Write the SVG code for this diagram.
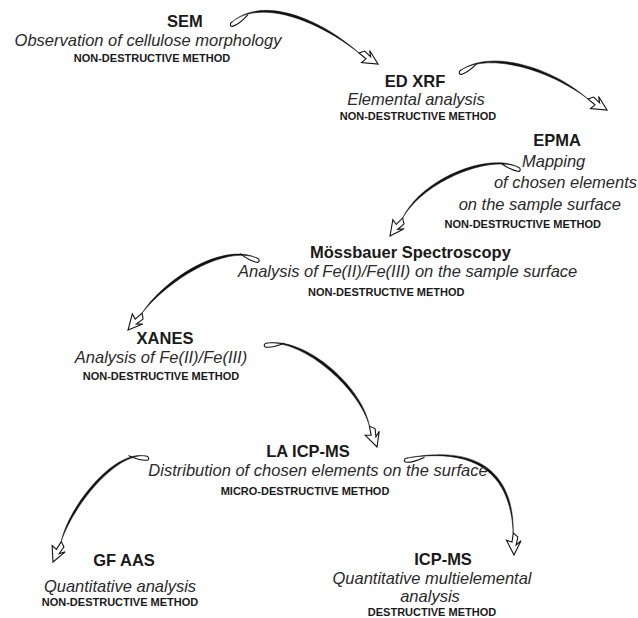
<svg xmlns="http://www.w3.org/2000/svg" xmlns:xlink="http://www.w3.org/1999/xlink" width="638" height="618" viewBox="0 0 638 618">
<style>
text{font-family:"Liberation Sans",Arial,sans-serif;fill:#1a1a1a;text-anchor:middle}
.t{font-weight:bold;font-size:16.5px}
.i{font-style:italic;font-size:16.5px;fill:#2a2a2a}
.m{font-weight:bold;font-size:11px}
.s{text-anchor:start}
.e{text-anchor:end}
.b{fill:#111;stroke:#111;stroke-width:0.5;stroke-linejoin:round}
</style>
<defs>
<path id="head" d="M0,0 L-14,-7.5 L-10,-2.5 L-18,-4.5 L-22,0 L-13,1.5 L-15,7 Z" fill="#fff" stroke="#111" stroke-width="1.1"/>
<path id="tail" d="M0,0 C-3,0 -4.5,3.5 -1,4.2 C4,5 10,4 17,1.8" fill="none" stroke="#111" stroke-width="1.1" stroke-linecap="round"/>
</defs>
<rect width="638" height="618" fill="#fff"/>
<g id="connectors">
<g id="c1">
<path class="b" d="M232,22 C262,-2 320,22 359,53 C321,19 263,-5 232,22 Z"/>
<use xlink:href="#tail" href="#tail" transform="translate(232,22) rotate(-30)"/>
<use xlink:href="#head" href="#head" transform="translate(378,64) rotate(30)"/>
</g>
<g id="c2">
<path class="b" d="M461,70 C490,52 550,70 588,99 C552,67 491,49 461,70 Z"/>
<use xlink:href="#tail" href="#tail" transform="translate(461,70) rotate(-28)"/>
<use xlink:href="#head" href="#head" transform="translate(607,110) rotate(30)"/>
</g>
<g id="c3">
<path class="b" d="M518,167 C490,155 425,180 402.6,218 C422,178 489,152 518,167 Z"/>
<use xlink:href="#tail" href="#tail" transform="translate(518,167) rotate(198) scale(1,-1)"/>
<use xlink:href="#head" href="#head" transform="translate(390,236) rotate(125)"/>
</g>
<g id="c4">
<path class="b" d="M257,258 C225,245 168,280 142.1,313.1 C165,278 223,242 257,258 Z"/>
<use xlink:href="#tail" href="#tail" transform="translate(257,258) rotate(200) scale(1,-1)"/>
<use xlink:href="#head" href="#head" transform="translate(128,330) rotate(130)"/>
</g>
<g id="c5">
<path class="b" d="M267,343 C305,340 360,390 369.5,426.3 C363,388 307,337 267,343 Z"/>
<use xlink:href="#tail" href="#tail" transform="translate(267,343) rotate(-5)"/>
<use xlink:href="#head" href="#head" transform="translate(377,447) rotate(70)"/>
</g>
<g id="c6">
<path class="b" d="M146,456 C115,452 72,508 61.2,541.6 C69,506 114,449 146,456 Z"/>
<use xlink:href="#tail" href="#tail" transform="translate(146,456) rotate(187) scale(1,-1)"/>
<use xlink:href="#head" href="#head" transform="translate(53,562) rotate(112)"/>
</g>
<g id="c7">
<path class="b" d="M407,458 C485,446 511,482 513.2,533 C514,480 486,443 407,458 Z"/>
<use xlink:href="#tail" href="#tail" transform="translate(407,458) rotate(-8)"/>
<use xlink:href="#head" href="#head" transform="translate(514,555) rotate(88)"/>
</g>
</g>
<g id="sem">
<text class="t" x="185" y="27">SEM</text>
<text class="i" x="148" y="46">Observation of cellulose morphology</text>
<text class="m" x="152" y="62">NON-DESTRUCTIVE METHOD</text>
</g>
<g id="edxrf">
<text class="t" x="415" y="87">ED XRF</text>
<text class="i" x="416" y="105">Elemental analysis</text>
<text class="m" x="418" y="120">NON-DESTRUCTIVE METHOD</text>
</g>
<g id="epma">
<text class="t" x="557" y="146">EPMA</text>
<text class="i s" x="522" y="167">Mapping</text>
<text class="i e" x="637" y="188">of chosen elements</text>
<text class="i e" x="621" y="210">on the sample surface</text>
<text class="m e" x="601" y="228">NON-DESTRUCTIVE METHOD</text>
</g>
<g id="mossbauer">
<text class="t s" x="310" y="258">Mössbauer Spectroscopy</text>
<text class="i s" x="238" y="277">Analysis of Fe(II)/Fe(III) on the sample surface</text>
<text class="m s" x="308" y="296">NON-DESTRUCTIVE METHOD</text>
</g>
<g id="xanes">
<text class="t" x="165" y="344">XANES</text>
<text class="i" x="161" y="363">Analysis of Fe(II)/Fe(III)</text>
<text class="m" x="161" y="380">NON-DESTRUCTIVE METHOD</text>
</g>
<g id="laicpms">
<text class="t" x="308" y="457">LA ICP-MS</text>
<text class="i" x="318" y="476">Distribution of chosen elements on the surface</text>
<text class="m" x="305" y="495">MICRO-DESTRUCTIVE METHOD</text>
</g>
<g id="gfaas">
<text class="t" x="124" y="566">GF AAS</text>
<text class="i" x="120" y="592">Quantitative analysis</text>
<text class="m" x="120" y="606">NON-DESTRUCTIVE METHOD</text>
</g>
<g id="icpms">
<text class="t" x="443" y="565">ICP-MS</text>
<text class="i" x="432" y="584">Quantitative multielemental</text>
<text class="i" x="430" y="602">analysis</text>
<text class="m" x="432" y="616">DESTRUCTIVE METHOD</text>
</g>
</svg>
